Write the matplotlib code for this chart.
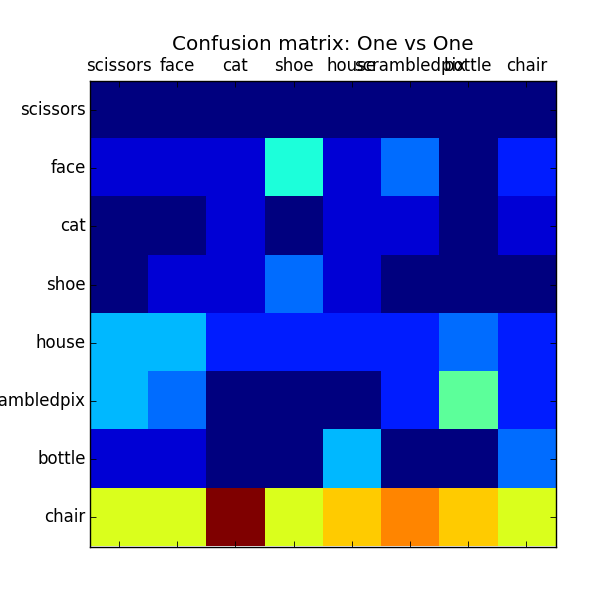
import matplotlib
matplotlib.use("Agg")
import matplotlib.pyplot as plt
from matplotlib.transforms import ScaledTranslation

labels = ["scissors", "face", "cat", "shoe", "house", "scrambledpix", "bottle", "chair"]
scissors = [0, 0, 0, 0, 0, 0, 0, 0]
face = [1, 1, 1, 5, 1, 3, 0, 2]
cat = [0, 0, 1, 0, 1, 1, 0, 1]
shoe = [0, 1, 1, 3, 1, 0, 0, 0]
house = [4, 4, 2, 2, 2, 2, 3, 2]
scrambledpix = [4, 3, 0, 0, 0, 2, 6, 2]
bottle = [1, 1, 0, 0, 4, 0, 0, 3]
chair = [8, 8, 13, 8, 9, 10, 9, 8]
matrix = [scissors, face, cat, shoe, house, scrambledpix, bottle, chair]

fig = plt.figure(figsize=(6, 6), dpi=100)
ax = fig.add_axes([90 / 600, 1 - 546.5 / 600, 465.5 / 600, 465.5 / 600])
ax.imshow(matrix, cmap="jet", interpolation="nearest", aspect="auto")
ax.set_xticks(range(len(labels)))
ax.set_yticks(range(len(labels)))
ax.set_xticklabels(labels)
ax.set_yticklabels(labels)
ax.tick_params(axis="both", direction="in", length=4, width=0.6, labelsize=12,
               top=True, bottom=True, left=True, right=True,
               labeltop=True, labelbottom=False, color="black")
ax.tick_params(axis="x", pad=4.5)
ax.tick_params(axis="y", pad=3.2)
for label in ax.get_yticklabels():
    label.set_transform(label.get_transform() + ScaledTranslation(0, 2.0 / 100, fig.dpi_scale_trans))
for spine in ax.spines.values():
    spine.set_linewidth(1.0)
ax.set_title("Confusion matrix: One vs One", fontsize=14.4, pad=22, x=0.5)
fig.savefig("out.png", dpi=100)
